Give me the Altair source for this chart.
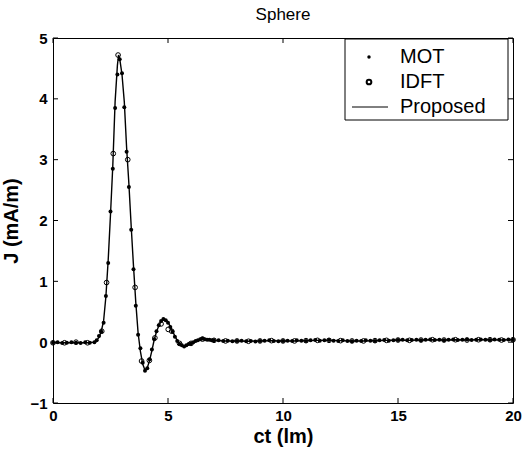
import altair as alt
import pandas as pd

# ---------------- data ----------------
ct_line = [0.0, 0.5, 1.0, 1.5, 1.8, 1.9, 2.0, 2.1, 2.2, 2.3, 2.4, 2.5, 2.6, 2.7, 2.8, 2.85,
           2.9, 3.0, 3.1, 3.2, 3.3, 3.4, 3.5, 3.6, 3.7, 3.8, 3.9, 4.0, 4.1, 4.2, 4.3, 4.4,
           4.5, 4.6, 4.7, 4.8, 4.9, 5.0, 5.1, 5.2, 5.3, 5.4, 5.5, 5.6, 5.7, 5.8, 5.9, 6.0,
           6.2, 6.4, 6.6, 6.8, 7.0, 7.5, 8.0, 8.5, 9.0, 9.5, 10.0, 10.5, 11.0, 11.5, 12.0,
           12.5, 13.0, 13.5, 14.0, 14.5, 15.0, 15.5, 16.0, 16.5, 17.0, 17.5, 18.0, 18.5,
           19.0, 19.5, 20.0]
j_line = [-0.01, -0.01, -0.01, -0.01, 0.0, 0.03, 0.08, 0.18, 0.35, 0.75, 1.35, 2.1, 2.9, 3.95, 4.55, 4.72,
          4.66, 4.4, 3.95, 3.2, 2.6, 1.9, 1.25, 0.65, 0.15, -0.15, -0.36, -0.46, -0.42, -0.3, -0.14, 0.04,
          0.17, 0.27, 0.34, 0.37, 0.37, 0.33, 0.26, 0.18, 0.1, 0.03, -0.02, -0.05, -0.07, -0.06, -0.04, -0.02,
          0.02, 0.04, 0.05, 0.04, 0.03, 0.02, 0.02, 0.015, 0.02, 0.025, 0.02, 0.02, 0.025, 0.03, 0.03,
          0.025, 0.02, 0.02, 0.025, 0.03, 0.035, 0.03, 0.035, 0.04, 0.035, 0.04, 0.035, 0.04,
          0.04, 0.035, 0.04]

ct_mot = [0.0, 0.2, 0.4, 0.6, 0.8, 1.0, 1.2, 1.4, 1.6, 1.8,
          1.9, 2.0, 2.1, 2.2, 2.3, 2.4, 2.5, 2.6, 2.7, 2.8, 2.9, 3.0, 3.1, 3.2, 3.3, 3.4,
          3.5, 3.6, 3.7, 3.8, 3.9, 4.0, 4.1, 4.2, 4.3, 4.4, 4.5, 4.6, 4.7, 4.8, 4.9, 5.0,
          5.1, 5.2, 5.3, 5.4, 5.5, 5.6, 5.7, 5.8, 5.9, 6.0, 6.1, 6.2, 6.3, 6.4, 6.5, 6.6,
          6.7, 6.8, 6.9, 7.0,
          7.2, 7.4, 7.6, 7.8, 8.0, 8.2, 8.4, 8.6, 8.8, 9.0, 9.2, 9.4, 9.6, 9.8, 10.0,
          10.2, 10.4, 10.6, 10.8, 11.0, 11.2, 11.4, 11.6, 11.8, 12.0, 12.2, 12.4, 12.6,
          12.8, 13.0, 13.2, 13.4, 13.6, 13.8, 14.0, 14.2, 14.4, 14.6, 14.8, 15.0, 15.2,
          15.4, 15.6, 15.8, 16.0, 16.2, 16.4, 16.6, 16.8, 17.0, 17.2, 17.4, 17.6, 17.8,
          18.0, 18.2, 18.4, 18.6, 18.8, 19.0, 19.2, 19.4, 19.6, 19.8, 20.0]
j_mot = [-0.01, 0.0, -0.015, -0.01, 0.0, -0.01, -0.015, 0.0, -0.01, 0.0,
         0.03, 0.1, 0.17, 0.32, 0.76, 1.3, 2.15, 2.85, 3.85, 4.4, 4.65, 4.42, 3.86, 3.13, 2.55, 1.85,
         1.2, 0.6, 0.12, -0.1, -0.34, -0.47, -0.43, -0.28, -0.12, 0.05, 0.18, 0.28, 0.35, 0.38, 0.36, 0.32,
         0.25, 0.17, 0.09, 0.02, -0.03, -0.05, -0.07, -0.05, -0.03, -0.02, 0.0, 0.02, 0.03, 0.05, 0.06, 0.05,
         0.04, 0.04, 0.03, 0.03,
         0.03, 0.02, 0.025, 0.015, 0.02, 0.025, 0.015, 0.02, 0.01, 0.02, 0.025, 0.03, 0.02, 0.015, 0.02,
         0.025, 0.02, 0.03, 0.025, 0.02, 0.03, 0.035, 0.025, 0.03, 0.035, 0.025, 0.02, 0.03,
         0.02, 0.015, 0.025, 0.02, 0.03, 0.025, 0.02, 0.03, 0.035, 0.025, 0.03, 0.035, 0.04,
         0.03, 0.035, 0.04, 0.03, 0.04, 0.045, 0.035, 0.04, 0.03, 0.04, 0.045, 0.035, 0.04,
         0.045, 0.035, 0.04, 0.045, 0.04, 0.035, 0.045, 0.04, 0.035, 0.045, 0.04]

ct_idft = [0.0, 0.5, 1.0, 1.5, 2.12, 2.33, 2.62, 2.83, 3.25, 3.57, 3.85, 4.19, 4.43, 4.7,
           5.01, 5.16, 5.5, 6.0, 6.5, 7.0, 7.5, 8.0, 8.5, 9.0, 9.5, 10.0, 10.5, 11.0, 11.5,
           12.0, 12.5, 13.0, 13.5, 14.0, 14.5, 15.0, 15.5, 16.0, 16.5, 17.0, 17.5, 18.0,
           18.5, 19.0, 19.5, 20.0]
j_idft = [-0.01, -0.01, 0.0, -0.01, 0.18, 0.98, 3.1, 4.72, 3.0, 0.9, -0.31, -0.3, 0.07, 0.3,
          0.21, 0.18, -0.02, -0.02, 0.05, 0.03, 0.02, 0.02, 0.015, 0.02, 0.025, 0.02, 0.02, 0.025,
          0.03, 0.03, 0.025, 0.02, 0.02, 0.025, 0.03, 0.035, 0.03, 0.035, 0.04, 0.035, 0.04,
          0.035, 0.04, 0.04, 0.035, 0.04]

x_ticks = [0, 5, 10, 15, 20]
y_ticks = [-1, 0, 1, 2, 3, 4, 5]

# ---------------- chart ----------------
FONT = "Liberation Sans"
W, H = 460, 365
xs = alt.Scale(domain=[0, 20], nice=False, zero=False)
ys = alt.Scale(domain=[-1, 5], nice=False, zero=False)

x_axis = alt.Axis(values=x_ticks, title="ct (lm)", grid=False, domain=False, tickSize=0,
                  labelPadding=5, labelFontSize=15, labelFont=FONT, labelColor="black",
                  labelFontWeight="bold", labelFlush=False,
                  titleFont=FONT, titleFontSize=20, titleFontWeight="bold",
                  titleColor="black", titlePadding=3)
y_axis = alt.Axis(values=y_ticks, title="J (mA/m)", grid=False, domain=False, tickSize=0,
                  labelPadding=6, labelFontSize=15, labelFont=FONT, labelColor="black",
                  labelFontWeight="bold", labelFlush=False,
                  titleFont=FONT, titleFontSize=20, titleFontWeight="bold",
                  titleColor="black", titlePadding=8)

line_df = pd.DataFrame({"ct": ct_line, "J": j_line})
mot_df = pd.DataFrame({"ct": ct_mot, "J": j_mot})
idft_df = pd.DataFrame({"ct": ct_idft, "J": j_idft})
xt_df = pd.DataFrame({"ct": x_ticks})
yt_df = pd.DataFrame({"J": y_ticks})
one = pd.DataFrame({"a": [0]})

X = alt.X("ct:Q", scale=xs, axis=x_axis)
Y = alt.Y("J:Q", scale=ys, axis=y_axis)

proposed = alt.Chart(line_df).mark_line(color="black", strokeWidth=1.4).encode(x=X, y=Y, order="ct:Q")

mot = alt.Chart(mot_df).mark_point(filled=True, shape="circle", size=16, color="black", opacity=1).encode(
    x=X, y=Y)

idft = alt.Chart(idft_df).mark_point(filled=False, shape="circle", size=22, color="black",
                                     strokeWidth=1, opacity=1).encode(x=X, y=Y)

tick_bottom = alt.Chart(xt_df).mark_rule(color="black", strokeWidth=1).encode(
    x=X, y=alt.value(H), y2=alt.value(H - 5))
tick_top = alt.Chart(xt_df).mark_rule(color="black", strokeWidth=1).encode(
    x=X, y=alt.value(0), y2=alt.value(5))
tick_left = alt.Chart(yt_df).mark_rule(color="black", strokeWidth=1).encode(
    y=Y, x=alt.value(0), x2=alt.value(5))
tick_right = alt.Chart(yt_df).mark_rule(color="black", strokeWidth=1).encode(
    y=Y, x=alt.value(W), x2=alt.value(W - 5))

# legend box
lx0, lx1, ly0, ly1 = 292, 455, 1, 82
leg_box = alt.Chart(one).mark_rect(fill="white", stroke="black", strokeWidth=1).encode(
    x=alt.value(lx0), x2=alt.value(lx1), y=alt.value(ly0), y2=alt.value(ly1))
rows = [19, 44, 69]
leg_mot = alt.Chart(one).mark_point(filled=True, shape="circle", size=12, color="black", opacity=1).encode(
    x=alt.value(316), y=alt.value(rows[0]))
leg_idft = alt.Chart(one).mark_point(filled=False, shape="circle", size=22, color="black", opacity=1).encode(
    x=alt.value(316), y=alt.value(rows[1]))
leg_prop = alt.Chart(one).mark_rule(color="black", strokeWidth=1).encode(
    x=alt.value(299), x2=alt.value(335), y=alt.value(rows[2]))


def leg_text(label, row):
    return alt.Chart(one).mark_text(align="left", baseline="middle", font=FONT, fontSize=20,
                                    color="black").encode(
        x=alt.value(347), y=alt.value(row), text=alt.value(label))


chart = alt.layer(
    proposed, mot, idft, tick_bottom, tick_top, tick_left, tick_right,
    leg_box, leg_mot, leg_idft, leg_prop,
    leg_text("MOT", rows[0]), leg_text("IDFT", rows[1]), leg_text("Proposed", rows[2]),
).properties(
    width=W, height=H,
    title=alt.TitleParams("Sphere", font=FONT, fontSize=17, fontWeight="normal", color="black",
                          anchor="middle", offset=7),
    autosize=alt.AutoSizeParams(type="none"),
    padding={"left": 53, "top": 38, "right": 11, "bottom": 48},
    background="white",
).configure_view(stroke="black", strokeWidth=1)

chart.save("out.html", embed_options={"renderer": "svg", "actions": False})
